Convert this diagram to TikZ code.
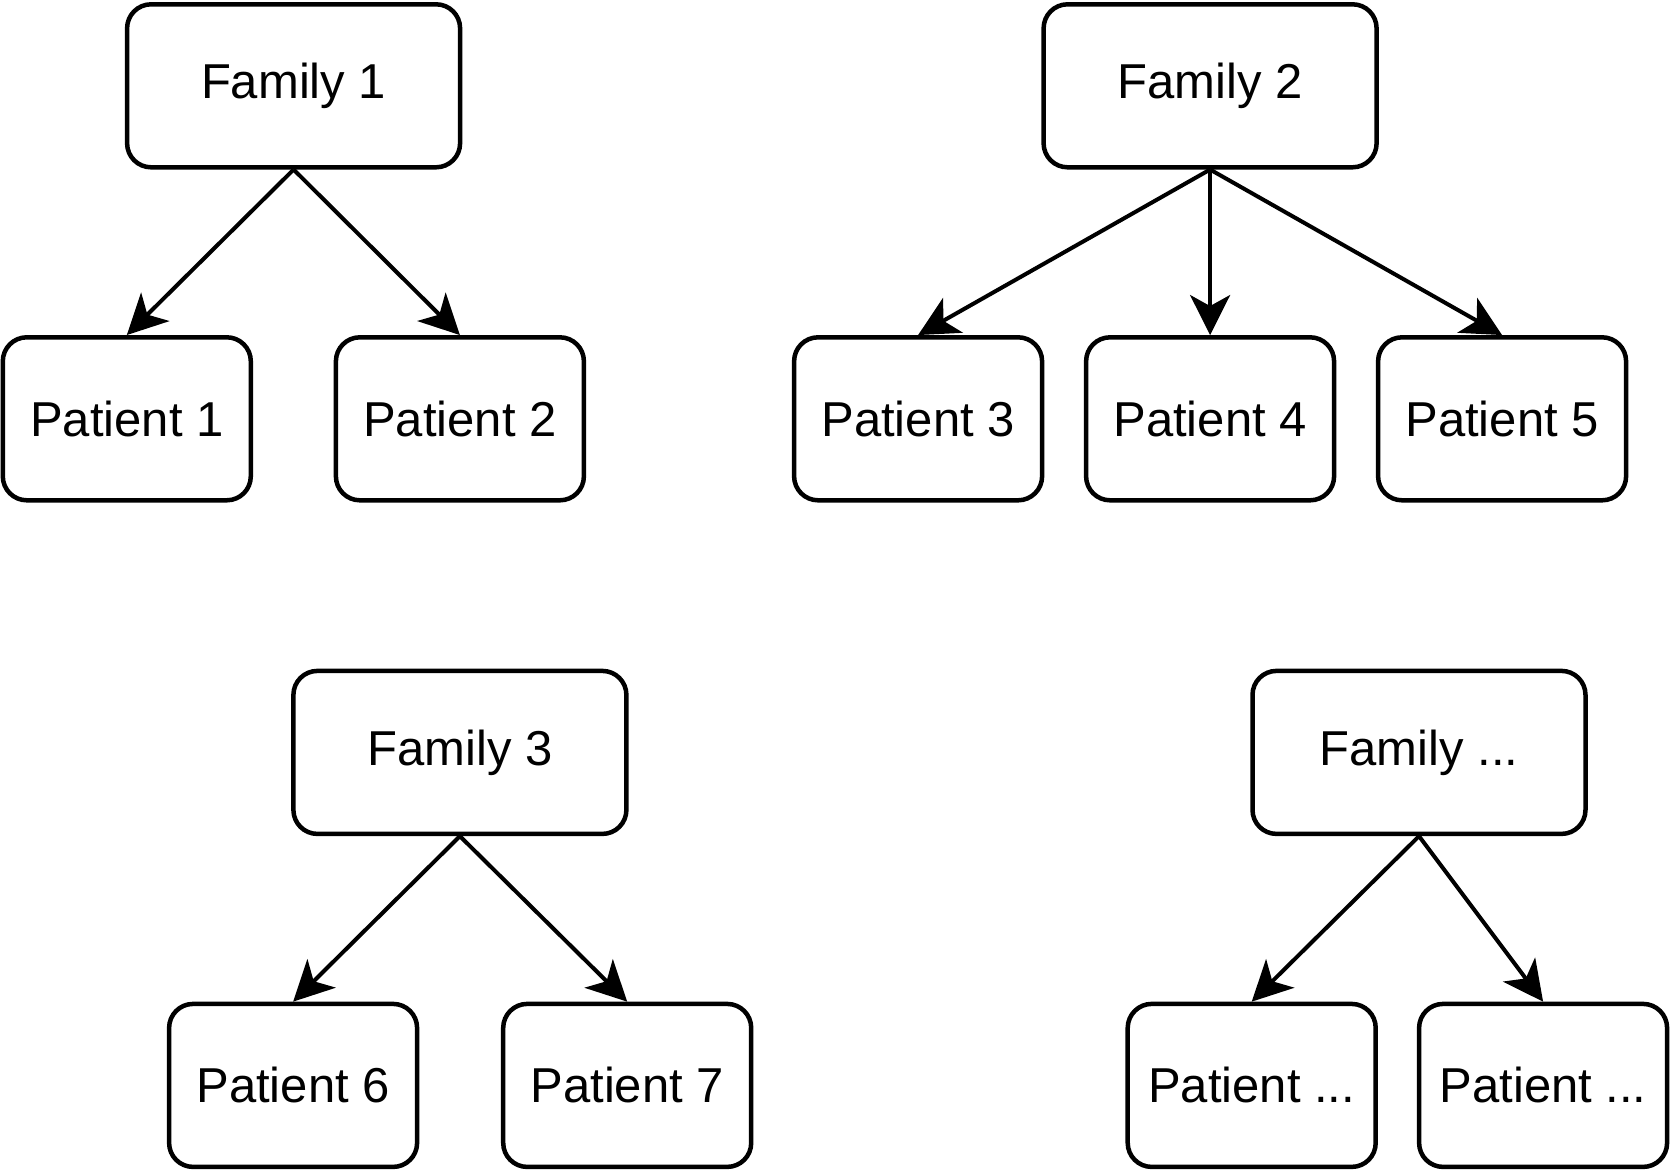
\documentclass[tikz,border=0pt]{standalone}
\usepackage{fontspec}
\setmainfont{Liberation Sans}
\usetikzlibrary{arrows.meta}
\begin{document}
\begin{tikzpicture}[x=1pt,y=-1pt,
  box/.style={draw=black, line width=4.5pt, rounded corners=24pt, fill=white,
    minimum height=163pt, inner sep=0pt, font=\fontsize{49}{59}\selectfont},
  fam/.style={box, minimum width=333pt},
  pat/.style={box, minimum width=248pt},
  link/.style={line width=4pt, -{Stealth[length=40pt, width=40pt, inset=11pt]}}]
\useasboundingbox (0,0) rectangle (1671,1175);
% Family 1
\node[fam] (f1) at (293.6,85.8) {Family 1};
\node[pat] (p1) at (126.8,418.8) {Patient 1};
\node[pat] (p2) at (459.9,418.8) {Patient 2};
% Family 2
\node[fam] (f2) at (1210.1,85.8) {Family 2};
\node[pat] (p3) at (918.1,418.8) {Patient 3};
\node[pat] (p4) at (1210.1,418.8) {Patient 4};
\node[pat] (p5) at (1502.1,418.8) {Patient 5};
% Family 3
\node[fam] (f3) at (459.9,752.4) {Family 3};
\node[pat] (p6) at (293.1,1085.4) {Patient 6};
\node[pat] (p7) at (627.2,1085.4) {Patient 7};
% Family ...
\node[fam] (f4) at (1419.0,752.4) {Family ...};
\node[pat] (p8) at (1251.7,1085.4) {Patient ...};
\node[pat] (p9) at (1543.1,1085.4) {Patient ...};
% connectors
\draw[link] (f1.south) -- (p1.north);
\draw[link] (f1.south) -- (p2.north);
\draw[link] (f2.south) -- (p3.north);
\draw[link] (f2.south) -- (p4.north);
\draw[link] (f2.south) -- (p5.north);
\draw[link] (f3.south) -- (p6.north);
\draw[link] (f3.south) -- (p7.north);
\draw[link] (f4.south) -- (p8.north);
\draw[link] (f4.south) -- (p9.north);
\end{tikzpicture}
\end{document}
